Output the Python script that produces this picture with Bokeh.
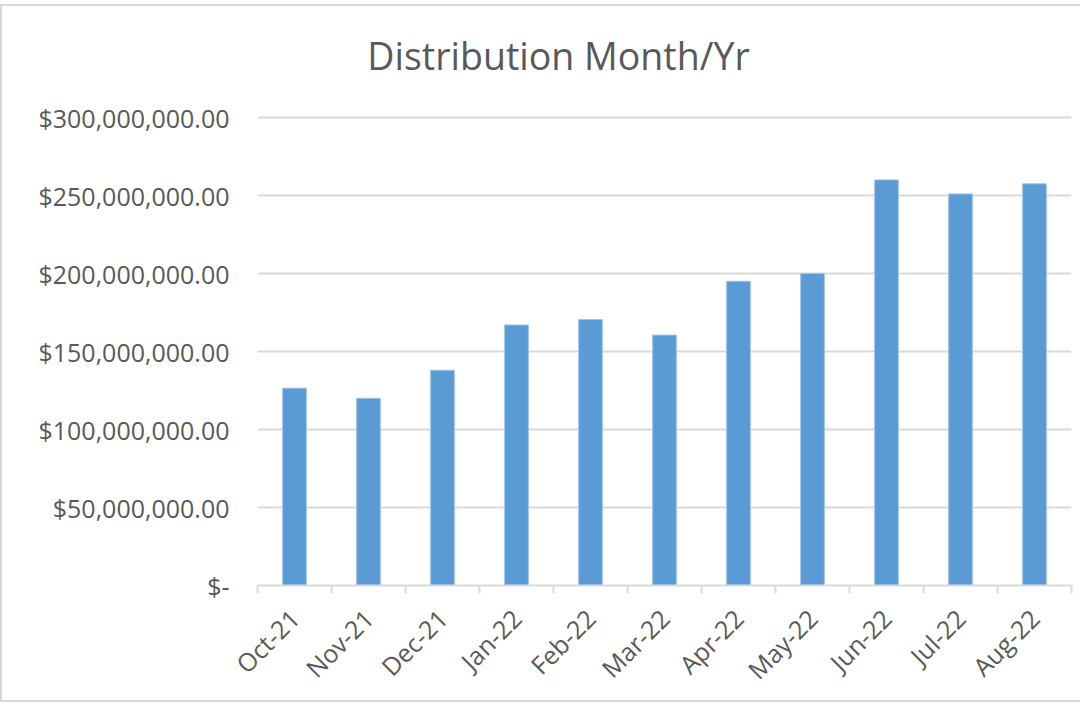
import numpy as np
from bokeh.plotting import figure
from bokeh.models import FixedTicker, Range1d, Label
from bokeh.embed import file_html
from bokeh.resources import INLINE

months = ["Oct-21", "Nov-21", "Dec-21", "Jan-22", "Feb-22", "Mar-22",
          "Apr-22", "May-22", "Jun-22", "Jul-22", "Aug-22"]
amounts = [126.5e6, 120.0e6, 138.0e6, 167.0e6, 170.5e6, 160.5e6,
           195.0e6, 200.0e6, 260.0e6, 251.0e6, 257.5e6]
y_ticks = [0, 50e6, 100e6, 150e6, 200e6, 250e6, 300e6]
y_labels = ["$-", "$50,000,000.00", "$100,000,000.00", "$150,000,000.00",
            "$200,000,000.00", "$250,000,000.00", "$300,000,000.00"]
title_text = "Distribution Month/Yr"

FONT = "Open Sans"
GREY = "#595959"
LINE = "#d9d9d9"

# layout (pixels inside the figure)
W, H = 1080, 698
LEFT, RIGHT, TOP, BOTTOM = 255, 11, 14, 119
GRID_TOP = 111            # pixel row of the 300M gridline
frame_h = H - TOP - BOTTOM
grid_h = H - BOTTOM - GRID_TOP
y_end = y_ticks[-1] * frame_h / grid_h   # headroom above the top gridline for the title

n = len(months)
centers = list(np.arange(n) + 0.5)
bounds = list(np.arange(n + 1).astype(float))

p = figure(width=W, height=H, output_backend="svg", toolbar_location=None,
           x_range=Range1d(0, n), y_range=Range1d(0, y_end),
           min_border_left=LEFT, min_border_right=RIGHT,
           min_border_top=TOP, min_border_bottom=BOTTOM)
p.styles = {"margin-top": "4px",
            "border-left": "2px solid #d9d9d9", "border-top": "2px solid #d9d9d9",
            "border-bottom": "2px solid #d9d9d9"}
p.outline_line_color = None
p.background_fill_color = "white"
p.border_fill_color = "white"

p.vbar(x=centers, top=amounts, width=0.32, bottom=0,
       fill_color="#5b9bd5", line_color="#9dc3e6", line_width=1)

# y axis
p.yaxis.ticker = FixedTicker(ticks=y_ticks)
p.yaxis.major_label_overrides = {t: l for t, l in zip(y_ticks, y_labels)}
p.yaxis.axis_line_color = None
p.yaxis.major_tick_line_color = None
p.yaxis.minor_tick_line_color = None
p.yaxis.major_label_text_font = FONT
p.yaxis.major_label_text_font_size = "25px"
p.yaxis.major_label_text_color = GREY
p.yaxis.major_label_standoff = 22

# x axis
p.xaxis.ticker = FixedTicker(ticks=centers, minor_ticks=bounds)
p.xaxis.major_label_overrides = {c: m for c, m in zip(centers, months)}
p.xaxis.major_label_orientation = np.pi / 4
p.xaxis.major_label_text_font = FONT
p.xaxis.major_label_text_font_size = "25px"
p.xaxis.major_label_text_color = GREY
p.xaxis.major_label_standoff = 20
p.xaxis.axis_line_color = LINE
p.xaxis.axis_line_width = 2
p.xaxis.major_tick_line_color = None
p.xaxis.minor_tick_line_color = LINE
p.xaxis.minor_tick_line_width = 2
p.xaxis.minor_tick_out = 8
p.xaxis.minor_tick_in = 0

p.xgrid.grid_line_color = None
p.ygrid.grid_line_color = LINE
p.ygrid.grid_line_width = 2

title = Label(x=301, y=530, x_units="screen", y_units="screen", text=title_text,
              text_align="center", text_baseline="middle",
              text_font=FONT, text_font_size="37.5px", text_color=GREY)
p.add_layout(title)

open("out.html", "w").write(file_html(p, INLINE))
